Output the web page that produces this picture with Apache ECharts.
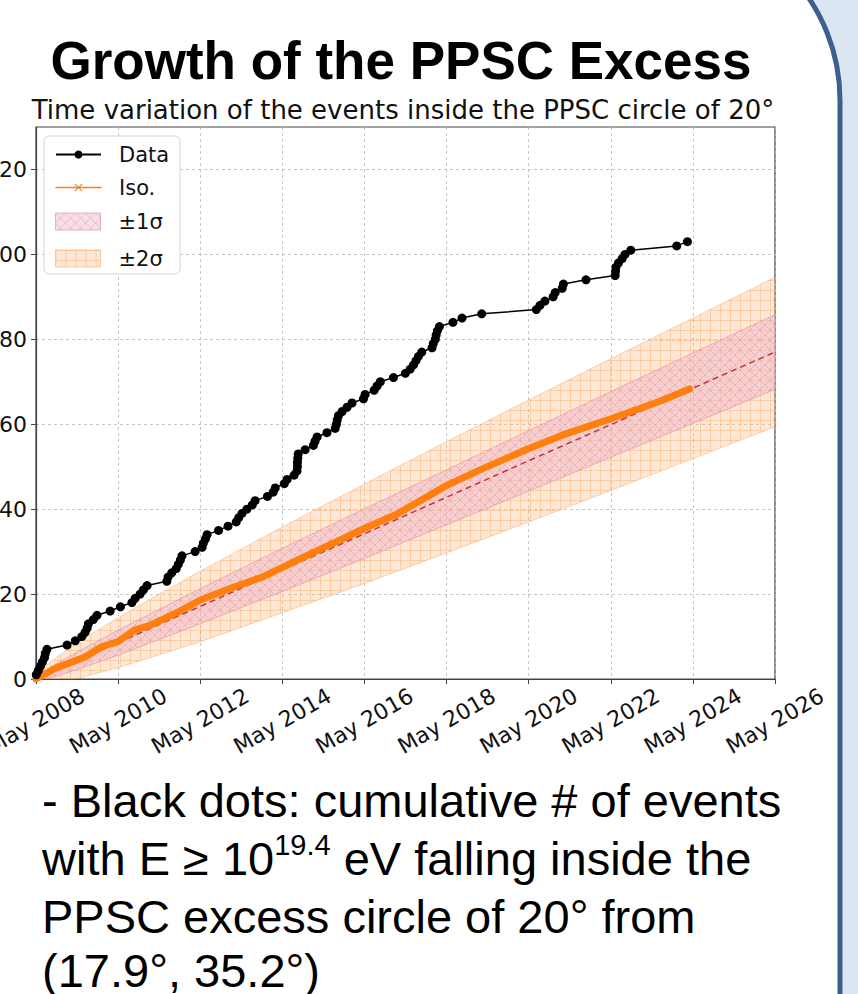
<!DOCTYPE html>
<html><head><meta charset="utf-8">
<script src="https://cdn.jsdelivr.net/npm/echarts@6/dist/echarts.min.js"></script>
<style>html,body{margin:0;padding:0;background:#fff}#c{width:858px;height:994px}</style>
</head><body><div id="c"></div>
<script>
// ---- data (decimal calendar years, cumulative counts) ----
const dataYears = [2008.34,2008.39,2008.44,2008.49,2008.54,2008.56,2008.60,2009.09,2009.29,2009.45,2009.53,2009.58,2009.61,2009.73,2009.82,2010.14,2010.39,2010.67,2010.75,2010.87,2010.95,2011.04,2011.52,2011.55,2011.64,2011.75,2011.80,2011.85,2011.89,2012.21,2012.38,2012.41,2012.46,2012.50,2012.78,2013.01,2013.21,2013.27,2013.35,2013.47,2013.60,2013.67,2013.97,2014.11,2014.16,2014.38,2014.45,2014.62,2014.69,2014.70,2014.70,2014.71,2014.72,2014.89,2015.09,2015.13,2015.18,2015.42,2015.62,2015.65,2015.67,2015.70,2015.79,2015.91,2016.03,2016.31,2016.35,2016.57,2016.64,2016.72,2017.04,2017.33,2017.45,2017.53,2017.59,2017.65,2017.73,2017.98,2018.01,2018.06,2018.08,2018.11,2018.16,2018.49,2018.71,2019.19,2020.52,2020.61,2020.73,2020.93,2020.98,2021.15,2021.18,2021.73,2022.44,2022.45,2022.46,2022.52,2022.61,2022.68,2022.82,2023.94,2024.20];
const dataCounts = [1,2,3,4,5,6,7,8,9,10,11,12,13,14,15,16,17,18,19,20,21,22,23,24,25,26,27,28,29,30,31,32,33,34,35,36,37,38,39,40,41,42,43,44,45,46,47,48,49,50,51,52,53,54,55,56,57,58,59,60,61,62,63,64,65,66,67,68,69,70,71,72,73,74,75,76,77,78,79,80,81,82,83,84,85,86,87,88,89,90,91,92,93,94,95,96,97,98,99,100,101,102,103];

const isoYears = [2008.33,2008.80,2009.53,2009.93,2010.33,2010.73,2011.10,2011.84,2012.34,2013.06,2013.87,2014.36,2015.09,2015.91,2016.34,2017.12,2017.93,2018.34,2019.23,2020.34,2021.26,2022.34,2023.53,2024.25];
const isoCounts = [0,2.5,5.2,7.6,8.8,11.5,12.6,16.0,18.6,21.3,24.1,26.4,29.8,33.5,35.5,38.8,43.3,45.6,49.6,54.3,57.8,61.3,65.4,68.3];

const bandYears = [2008.333,2008.583,2008.833,2009.333,2009.833,2010.333,2011.333,2012.333,2014.333,2016.333,2018.333,2020.333,2022.333,2024.333,2026.333];
const meanVals  = [0,1.07,2.14,4.28,6.42,8.56,12.84,17.1,25.7,34.2,42.8,51.4,59.9,68.5,77.0];
const lo1Vals   = [0,0.04,0.68,2.2,3.9,5.6,9.3,13.0,20.6,28.4,36.3,44.2,52.2,60.2,68.2];
const hi1Vals   = [0,2.1,3.6,6.35,8.95,11.5,16.4,21.3,30.8,40.1,49.3,58.5,67.7,76.8,85.8];
const lo2Vals   = [0,0,0,0.14,1.4,2.7,5.7,8.8,15.6,22.5,29.7,37.0,44.4,51.9,59.4];
const hi2Vals   = [0,3.1,5.1,8.4,11.5,14.4,20.0,25.4,35.8,45.9,55.9,65.7,75.4,85.0,94.6];

const xTickLabels = ['May 2008','May 2010','May 2012','May 2014','May 2016','May 2018','May 2020','May 2022','May 2024','May 2026'];
const yTickLabels = ['0','20','40','60','80','100','120'];

// ---- helpers ----
const X0 = 2008 + 4/12; // May 2008 (axis origin, years)
const toX = y => +(y - X0).toFixed(4);
const pairs = (xs, ys) => xs.map((x, i) => [toX(x), ys[i]]);

function makePattern(kind) {
  const c = document.createElement('canvas');
  c.width = 10; c.height = 10;
  const g = c.getContext('2d');
  if (kind === 'grid') {
    g.fillStyle = 'rgba(252,192,135,0.36)';
    g.fillRect(0, 0, 10, 10);
    g.strokeStyle = 'rgba(242,168,105,0.38)';
    g.lineWidth = 1;
    g.beginPath();
    g.moveTo(0.5, 0); g.lineTo(0.5, 10);
    g.moveTo(0, 0.5); g.lineTo(10, 0.5);
    g.stroke();
  } else {
    g.fillStyle = 'rgba(240,182,205,0.45)';
    g.fillRect(0, 0, 10, 10);
    g.strokeStyle = 'rgba(205,140,180,0.45)';
    g.lineWidth = 0.9;
    g.beginPath();
    g.moveTo(0, 0); g.lineTo(10, 10);
    g.moveTo(10, 0); g.lineTo(0, 10);
    g.stroke();
  }
  return { image: c, repeat: 'repeat' };
}
const orangePat = makePattern('grid');
const pinkPat = makePattern('cross');

function bandSeries(name, lo, hi, pat, edge, z) {
  return {
    name, type: 'custom', z, silent: true, clip: true,
    itemStyle: { color: pat },
    data: bandYears.map((y, i) => [toX(y), lo[i], hi[i]]),
    encode: { x: 0, y: [1, 2] },
    renderItem: (params, api) => {
      if (params.dataIndex !== 0) return null;
      const up = [], dn = [];
      for (let i = 0; i < bandYears.length; i++) {
        up.push(api.coord([toX(bandYears[i]), hi[i]]));
        dn.push(api.coord([toX(bandYears[i]), lo[i]]));
      }
      return {
        type: 'group', children: [
          { type: 'polygon', shape: { points: up.concat(dn.slice().reverse()) }, style: { fill: pat, stroke: null } },
          { type: 'polyline', shape: { points: up }, style: { stroke: edge, lineWidth: 0.9, fill: null } },
          { type: 'polyline', shape: { points: dn }, style: { stroke: edge, lineWidth: 0.9, fill: null } }
        ]
      };
    }
  };
}

const xPath = 'path://M0,1L1,0L5,4L9,0L10,1L6,5L10,9L9,10L5,6L1,10L0,9L4,5Z';
const FONT = 'DejaVu Sans';
const SANS = 'Liberation Sans';

const chart = echarts.init(document.getElementById('c'), null, { renderer: 'svg' });

const option = {
  backgroundColor: 'transparent',
  animation: false,
  grid: { left: 36, right: 83, top: 127, bottom: 315, containLabel: false, outerBoundsMode: 'none',
          show: true, borderColor: '#444', borderWidth: 1.2, backgroundColor: 'transparent' },
  xAxis: {
    type: 'value', min: 0, max: 18, interval: 2,
    axisLine: { show: true, onZero: false, lineStyle: { color: '#444', width: 1.2 } },
    axisTick: { show: true, length: 5, lineStyle: { color: '#444' } },
    axisLabel: {
      rotate: 30, align: 'center', verticalAlign: 'middle', margin: 42, hideOverlap: false,
      fontSize: 22, fontFamily: FONT, color: '#111',
      formatter: v => xTickLabels[Math.round(v / 2)] || ''
    },
    splitLine: { show: true, lineStyle: { type: [3, 3], color: '#b8b8b8', width: 0.8 } }
  },
  yAxis: {
    type: 'value', min: 0, max: 130, interval: 20,
    axisLine: { show: true, lineStyle: { color: '#444', width: 1.2 } },
    axisTick: { show: true, length: 5, lineStyle: { color: '#444' }, customValues: [0,20,40,60,80,100,120] },
    axisLabel: {
      margin: 9, fontSize: 22, fontFamily: FONT, color: '#111', hideOverlap: false,
      customValues: [0,20,40,60,80,100,120],
      formatter: v => (v % 20 === 0 && v <= 120) ? yTickLabels[v / 20] : ''
    },
    splitLine: { show: true, lineStyle: { type: [3, 3], color: '#b8b8b8', width: 0.8 } }
  },
  legend: [
    {
      orient: 'vertical', left: 55, top: 144, padding: 0, itemGap: 12,
      itemWidth: 45, itemHeight: 10,
      textStyle: { fontSize: 21, fontFamily: FONT, color: '#111', padding: [0, 0, 0, 13] },
      data: [
        { name: 'Data' },
        { name: 'Iso.', lineStyle: { width: 1.5, color: '#ff7f0e' }, itemStyle: { color: '#ff7f0e' } }
      ]
    },
    {
      orient: 'vertical', left: 55, top: 211, padding: 0, itemGap: 16,
      itemWidth: 45, itemHeight: 17,
      textStyle: { fontSize: 21, fontFamily: FONT, color: '#111', padding: [0, 0, 0, 13] },
      data: [
        { name: '±1σ', icon: 'rect', itemStyle: { color: pinkPat, borderColor: 'rgba(225,150,175,0.7)', borderWidth: 1 } },
        { name: '±2σ', icon: 'rect', itemStyle: { color: orangePat, borderColor: 'rgba(240,175,120,0.6)', borderWidth: 1 } }
      ]
    }
  ],
  graphic: [
    { type: 'rect', z: -20, silent: true, shape: { x: 0, y: 0, width: 858, height: 994 }, style: { fill: '#dce6f2' } },
    { type: 'rect', z: -19, silent: true, shape: { x: -20, y: -82, width: 860, height: 1200, r: [0, 182, 0, 0] },
      style: { fill: '#ffffff', stroke: '#3b5f8e', lineWidth: 5 } },
    { type: 'rect', z: 3, silent: true, shape: { x: 44, y: 136, width: 136, height: 138, r: 5 },
      style: { fill: 'rgba(255,255,255,0.9)', stroke: '#d4d4d4', lineWidth: 1 } },
    { type: 'text', z: 10, x: 401, y: 60, style: { text: 'Growth of the PPSC Excess', fontSize: 53, fontWeight: 'bold',
      fontFamily: SANS, fill: '#000', align: 'center', verticalAlign: 'middle' } },
    { type: 'text', z: 10, x: 403, y: 110, style: { text: 'Time variation of the events inside the PPSC circle of 20°',
      fontSize: 26, fontFamily: FONT, fill: '#111', align: 'center', verticalAlign: 'middle' } },
    { type: 'text', z: 10, x: 42, y: 800, style: { text: '- Black dots: cumulative # of events', fontSize: 47,
      fontFamily: SANS, fill: '#000', align: 'left', verticalAlign: 'middle' } },
    { type: 'text', z: 10, x: 42, y: 858, style: { text: 'with E ≥ 10{sup|19.4} eV falling inside the', fontSize: 47,
      fontFamily: SANS, fill: '#000', align: 'left', verticalAlign: 'middle', lineHeight: 55,
      rich: { sup: { fontSize: 29, fontFamily: SANS, fill: '#000', verticalAlign: 'top', lineHeight: 55 } } } },
    { type: 'text', z: 10, x: 42, y: 916, style: { text: 'PPSC excess circle of 20° from', fontSize: 47,
      fontFamily: SANS, fill: '#000', align: 'left', verticalAlign: 'middle' } },
    { type: 'text', z: 10, x: 42, y: 970, style: { text: '(17.9°, 35.2°)', fontSize: 47,
      fontFamily: SANS, fill: '#000', align: 'left', verticalAlign: 'middle' } }
  ],
  series: [
    bandSeries('±2σ', lo2Vals, hi2Vals, orangePat, 'rgba(240,170,110,0.55)', 1),
    bandSeries('±1σ', lo1Vals, hi1Vals, pinkPat, 'rgba(225,130,160,0.6)', 1),
    { name: 'mean', type: 'line', symbol: 'none', silent: true, z: 2,
      data: pairs(bandYears, meanVals), lineStyle: { width: 1.5, color: '#c0353f', type: [6, 4] } },
    { name: 'Iso.', type: 'line', symbol: xPath, symbolSize: 7, showSymbol: false, z: 3, color: '#ff7f0e',
      data: pairs(isoYears, isoCounts), lineStyle: { width: 7, color: '#ff7f0e', join: 'round', cap: 'round' } },
    { name: 'Data', type: 'line', symbol: 'circle', symbolSize: 9, showAllSymbol: true, z: 4, color: '#000',
      data: pairs(dataYears, dataCounts), lineStyle: { width: 1.5, color: '#000' }, itemStyle: { color: '#000' } }
  ]
};
chart.setOption(option);
</script>
</body></html>
